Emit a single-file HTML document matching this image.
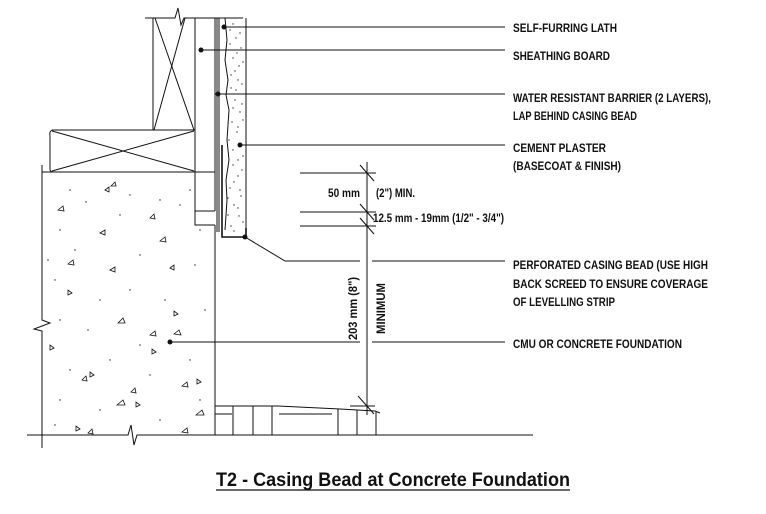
<!DOCTYPE html>
<html><head><meta charset="utf-8"><style>
html,body{margin:0;padding:0;background:#fff;width:766px;height:514px;overflow:hidden}
svg{display:block}
.t{font-family:"Liberation Sans Narrow","Liberation Sans",sans-serif;font-weight:bold;font-size:12px;fill:#111}
</style></head><body>
<svg width="766" height="514" viewBox="0 0 766 514" xmlns="http://www.w3.org/2000/svg">
<g stroke="#111" stroke-width="1" fill="none">
<polyline points="145,18 175,18 178,8 181,25 184,18 243,18"/>
<line x1="153" y1="18" x2="153" y2="130"/>
<line x1="195" y1="18" x2="195" y2="172"/>
<line x1="155" y1="18" x2="194" y2="130"/>
<line x1="185" y1="18" x2="154" y2="130"/>
<polyline points="52,130 195,130"/>
<path d="M52,130 Q49,132 50,136 L50,170 Q51,172 53,172"/>
<line x1="52" y1="131" x2="194" y2="171"/>
<line x1="52" y1="171" x2="194" y2="131"/>
<line x1="42" y1="172" x2="215" y2="172"/>
<polyline points="42,165 42,320 50,323 34,329 42,331 42,448"/>
<line x1="215" y1="225" x2="215" y2="435"/>
<polyline points="195,211 215,211"/>
<polyline points="195,172 195,225 215,225"/>
<line x1="215" y1="18" x2="215" y2="211"/>
<line x1="217" y1="18" x2="217" y2="232"/>
<line x1="219" y1="18" x2="219" y2="232"/>
<polyline stroke-width="1.6" points="222,145 222,237 246,237 246,228"/>
<path d="M225,18 L227,40 L225,60 L228,80 L226,95 L229,110 L227,140 L229,160 L226,180 L227,200 L225,230"/>
<line x1="246" y1="18" x2="246" y2="232"/>
<polyline points="27,435 128,435 131,425 134,445 137,435 533,435"/>
<polyline points="215,406 278,406 340,409 375,411 380,413"/>
<line x1="350" y1="406" x2="375" y2="406"/>
<line x1="215" y1="414" x2="232" y2="414"/>
<line x1="279" y1="414" x2="332" y2="414"/>
<line x1="233" y1="406" x2="233" y2="435"/>
<line x1="253" y1="406" x2="253" y2="435"/>
<line x1="272" y1="406" x2="272" y2="435"/>
<line x1="338" y1="409" x2="338" y2="435"/>
<line x1="357" y1="410" x2="357" y2="435"/>
<line x1="376" y1="412" x2="376" y2="435"/>
<line x1="367" y1="162" x2="367" y2="415"/>
<line x1="300" y1="173" x2="376" y2="173"/>
<line x1="300" y1="212" x2="376" y2="212"/>
<line x1="300" y1="226" x2="376" y2="226"/>
<line x1="360" y1="165" x2="374" y2="181"/>
<line x1="360" y1="204" x2="374" y2="220"/>
<line x1="360" y1="218" x2="374" y2="234"/>
<line x1="358" y1="396" x2="374" y2="414"/>
<line x1="224" y1="27" x2="505" y2="27"/>
<line x1="201" y1="50" x2="505" y2="50"/>
<line x1="218" y1="94" x2="505" y2="94"/>
<line x1="240" y1="145" x2="505" y2="145"/>
<polyline points="245,237 285,261 360,261"/>
<line x1="372" y1="261" x2="505" y2="261"/>
<line x1="170" y1="342" x2="360" y2="342"/>
<line x1="372" y1="342" x2="505" y2="342"/>
</g>
<g fill="#111">
<circle cx="224" cy="27" r="2.5"/><circle cx="201" cy="50" r="2.5"/><circle cx="218" cy="94" r="2.5"/>
<circle cx="240" cy="145" r="2.5"/><circle cx="245" cy="237" r="2.5"/><circle cx="170" cy="342" r="2.5"/>
</g>
<g fill="#333">
<circle cx="230" cy="30" r=".7"/><circle cx="236" cy="38" r=".7"/><circle cx="241" cy="48" r=".7"/><circle cx="233" cy="58" r=".7"/><circle cx="239" cy="66" r=".7"/><circle cx="231" cy="75" r=".7"/><circle cx="242" cy="84" r=".7"/><circle cx="235" cy="100" r=".7"/><circle cx="240" cy="112" r=".7"/><circle cx="232" cy="122" r=".7"/><circle cx="237" cy="132" r=".7"/><circle cx="243" cy="156" r=".7"/><circle cx="233" cy="165" r=".7"/><circle cx="238" cy="176" r=".7"/><circle cx="230" cy="188" r=".7"/><circle cx="241" cy="196" r=".7"/><circle cx="234" cy="205" r=".7"/><circle cx="239" cy="216" r=".7"/><circle cx="231" cy="226" r=".7"/><circle cx="236" cy="90" r=".7"/><circle cx="229" cy="140" r=".7"/><circle cx="243" cy="120" r=".7"/>
<circle cx="233" cy="24" r=".7"/><circle cx="240" cy="33" r=".7"/><circle cx="230" cy="44" r=".7"/><circle cx="237" cy="53" r=".7"/><circle cx="243" cy="62" r=".7"/><circle cx="235" cy="71" r=".7"/><circle cx="238" cy="80" r=".7"/><circle cx="231" cy="88" r=".7"/><circle cx="242" cy="104" r=".7"/><circle cx="233" cy="108" r=".7"/><circle cx="238" cy="127" r=".7"/><circle cx="233" cy="150" r=".7"/><circle cx="238" cy="160" r=".7"/><circle cx="242" cy="170" r=".7"/><circle cx="234" cy="182" r=".7"/><circle cx="240" cy="190" r=".7"/><circle cx="228" cy="198" r=".7"/><circle cx="238" cy="208" r=".7"/><circle cx="243" cy="222" r=".7"/><circle cx="234" cy="231" r=".7"/><circle cx="228" cy="215" r=".7"/>
</g>
<g stroke="#111" stroke-width=".8" fill="none">
<path d="M105,190 l4,-3 l0,5z"/><path d="M58,210 l5,-4 l1,5z"/><path d="M111,186 l4,-4 l1,4z"/>
<path d="M100,233 l5,-3 l0,5z"/><path d="M150,218 l4,-4 l1,5z"/><path d="M160,241 l5,-4 l1,5z"/>
<path d="M170,268 l4,-3 l0,5z"/><path d="M68,264 l5,-4 l1,5z"/><path d="M110,270 l5,-3 l0,5z"/>
<path d="M72,293 l-4,-3 l0,5z"/><path d="M118,323 l5,-5 l2,5z"/><path d="M150,335 l5,-4 l1,5z"/>
<path d="M174,334 l5,-4 l2,5z"/><path d="M178,314 l-4,-3 l0,5z"/><path d="M54,348 l-4,-3 l0,5z"/>
<path d="M156,352 l-4,-3 l0,5z"/><path d="M82,380 l4,-4 l1,5z"/><path d="M94,375 l-4,-3 l0,5z"/>
<path d="M131,392 l4,-4 l1,5z"/><path d="M182,386 l5,-4 l1,5z"/><path d="M201,382 l-4,-3 l0,5z"/>
<path d="M117,405 l6,-5 l2,5z"/><path d="M140,405 l-4,-3 l0,5z"/><path d="M196,415 l6,-5 l2,5z"/>
<path d="M80,429 l-4,-3 l0,5z"/><path d="M88,433 l4,-4 l1,5z"/><path d="M182,432 l5,-4 l1,5z"/>
</g>
<g fill="#222">
<circle cx="70" cy="190" r=".7"/><circle cx="86" cy="202" r=".7"/><circle cx="130" cy="195" r=".7"/><circle cx="160" cy="200" r=".7"/><circle cx="180" cy="205" r=".7"/><circle cx="60" cy="230" r=".7"/><circle cx="120" cy="215" r=".7"/><circle cx="190" cy="190" r=".7"/><circle cx="75" cy="250" r=".7"/><circle cx="140" cy="255" r=".7"/><circle cx="195" cy="265" r=".7"/><circle cx="55" cy="280" r=".7"/><circle cx="100" cy="300" r=".7"/><circle cx="130" cy="290" r=".7"/><circle cx="165" cy="300" r=".7"/><circle cx="205" cy="310" r=".7"/><circle cx="60" cy="320" r=".7"/><circle cx="88" cy="330" r=".7"/><circle cx="140" cy="345" r=".7"/><circle cx="190" cy="360" r=".7"/><circle cx="70" cy="370" r=".7"/><circle cx="110" cy="360" r=".7"/><circle cx="150" cy="375" r=".7"/><circle cx="60" cy="400" r=".7"/><circle cx="100" cy="410" r=".7"/><circle cx="160" cy="420" r=".7"/><circle cx="55" cy="425" r=".7"/><circle cx="200" cy="230" r=".7"/><circle cx="48" cy="260" r=".7"/><circle cx="200" cy="400" r=".7"/>
</g>
<text class="t" x="513" y="32" textLength="104" lengthAdjust="spacingAndGlyphs">SELF-FURRING LATH</text>
<text class="t" x="513" y="60" textLength="97" lengthAdjust="spacingAndGlyphs">SHEATHING BOARD</text>
<text class="t" x="513" y="102" textLength="198" lengthAdjust="spacingAndGlyphs">WATER RESISTANT BARRIER (2 LAYERS),</text>
<text class="t" x="513" y="120" textLength="124" lengthAdjust="spacingAndGlyphs">LAP BEHIND CASING BEAD</text>
<text class="t" x="513" y="152" textLength="93" lengthAdjust="spacingAndGlyphs">CEMENT PLASTER</text>
<text class="t" x="513" y="170" textLength="108" lengthAdjust="spacingAndGlyphs">(BASECOAT &amp; FINISH)</text>
<text class="t" x="513" y="269" textLength="195" lengthAdjust="spacingAndGlyphs">PERFORATED CASING BEAD (USE HIGH</text>
<text class="t" x="513" y="288" textLength="195" lengthAdjust="spacingAndGlyphs">BACK SCREED TO ENSURE COVERAGE</text>
<text class="t" x="513" y="306" textLength="102" lengthAdjust="spacingAndGlyphs">OF LEVELLING STRIP</text>
<text class="t" x="513" y="348" textLength="169" lengthAdjust="spacingAndGlyphs">CMU OR CONCRETE FOUNDATION</text>
<text class="t" x="328" y="197" textLength="32" lengthAdjust="spacingAndGlyphs">50 mm</text>
<text class="t" x="376" y="197" textLength="39" lengthAdjust="spacingAndGlyphs">(2") MIN.</text>
<text class="t" x="373" y="222" textLength="131" lengthAdjust="spacingAndGlyphs">12.5 mm - 19mm (1/2" - 3/4")</text>
<text class="t" transform="translate(357,340) rotate(-90)" textLength="63" lengthAdjust="spacingAndGlyphs">203 mm (8")</text>
<text class="t" transform="translate(385,334) rotate(-90)" textLength="51" lengthAdjust="spacingAndGlyphs">MINIMUM</text>
<text x="216" y="486" font-family="Liberation Sans, sans-serif" font-weight="bold" font-size="19" textLength="354" lengthAdjust="spacingAndGlyphs" fill="#111">T2 - Casing Bead at Concrete Foundation</text>
<line x1="216" y1="490" x2="570" y2="490" stroke="#111" stroke-width="1.3"/>
</svg>
</body></html>
